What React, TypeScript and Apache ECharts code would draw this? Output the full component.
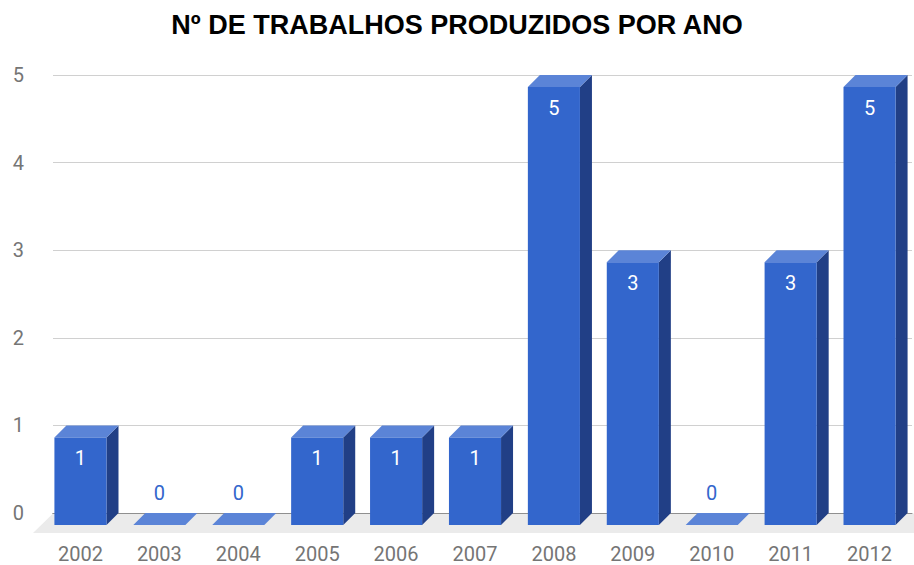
import React, { useEffect, useRef } from "react";
import * as echarts from "echarts";

const years = ["2002", "2003", "2004", "2005", "2006", "2007", "2008", "2009", "2010", "2011", "2012"];
const counts = [1, 0, 0, 1, 1, 1, 5, 3, 0, 3, 5];
const yMin = 0;
const yMax = 5;
const yStep = 1;
const titleText = "Nº DE TRABALHOS PRODUZIDOS POR ANO";

const DEPTH = 12;
const FRONT = "#3366cc";
const TOP = "#5b84d7";
const SIDE = "#213f86";
const LABEL_GRAY = "#757575";

export default function App() {
  const ref = useRef<HTMLDivElement>(null);
  useEffect(() => {
    if (!ref.current) return;
    const chart = echarts.init(ref.current, null, { renderer: "svg" });
    const option: any = {
      animation: false,
      backgroundColor: "#ffffff",
      title: {
        text: titleText,
        left: "center",
        top: 6,
        textStyle: { fontFamily: "Liberation Sans, Arial, sans-serif", fontWeight: "bold", fontSize: 27, color: "#000" },
      },
      grid: [
        { left: 53, right: 2, top: 75, bottom: 52 },
        { left: 41, right: 5, top: 87, bottom: 40 },
      ],
      xAxis: [
        {
          gridIndex: 0,
          type: "category",
          data: years,
          axisLine: { show: true, lineStyle: { color: "#333", width: 1 } },
          axisTick: { show: false },
          axisLabel: { show: false },
          splitLine: { show: false },
        },
        {
          gridIndex: 1,
          type: "category",
          data: years,
          axisLine: { show: false },
          axisTick: { show: false },
          axisLabel: { color: LABEL_GRAY, fontSize: 20, fontFamily: "Roboto, sans-serif", margin: 19 },
          splitLine: { show: false },
        },
      ],
      yAxis: [
        {
          gridIndex: 0,
          type: "value",
          min: yMin,
          max: yMax,
          interval: yStep,
          axisLine: { show: false },
          axisTick: { show: false },
          axisLabel: { color: LABEL_GRAY, fontSize: 20, fontFamily: "Roboto, sans-serif", margin: 29 },
          splitLine: { show: true, lineStyle: { color: "#d0d0d0", width: 1 } },
        },
        {
          gridIndex: 1,
          type: "value",
          min: yMin,
          max: yMax,
          interval: yStep,
          show: false,
          splitLine: { show: false },
        },
      ],
      series: [
        {
          type: "custom",
          xAxisIndex: 1,
          yAxisIndex: 1,
          z: 1,
          silent: true,
          data: [[0, 0]],
          renderItem: (params: any, api: any) => {
            const cs = params.coordSys;
            const base = cs.y + cs.height;
            const backY = base - DEPTH + 0.5;
            const frontY = base + 8;
            return {
              type: "polygon",
              shape: {
                points: [
                  [cs.x + DEPTH, backY],
                  [cs.x + cs.width + 30, backY],
                  [cs.x + cs.width + 10, frontY],
                  [cs.x - 8, frontY],
                ],
              },
              style: { fill: "#ebebeb" },
            };
          },
        },
        {
          type: "custom",
          xAxisIndex: 1,
          yAxisIndex: 1,
          z: 3,
          data: years.map((y, i) => [i, counts[i]]),
          renderItem: (params: any, api: any) => {
            const xi = api.value(0);
            const v = api.value(1);
            const top = api.coord([xi, v]);
            const base = api.coord([xi, 0]);
            const band = api.size([1, 0])[0];
            const bw = band * 0.66;
            const cx = top[0];
            const xl = cx - bw / 2;
            const xr = cx + bw / 2;
            const yt = top[1];
            const yb = base[1];
            const children: any[] = [];
            const topFace = {
              type: "polygon",
              shape: {
                points: [
                  [xl, yt],
                  [xr, yt],
                  [xr + DEPTH, yt - DEPTH],
                  [xl + DEPTH, yt - DEPTH],
                ],
              },
              style: { fill: TOP },
            };
            if (v > 0) {
              children.push({
                type: "polygon",
                shape: {
                  points: [
                    [xr, yt],
                    [xr + DEPTH, yt - DEPTH],
                    [xr + DEPTH, yb - DEPTH],
                    [xr, yb],
                  ],
                },
                style: { fill: SIDE },
              });
              children.push(topFace);
              children.push({
                type: "rect",
                shape: { x: xl, y: yt, width: bw, height: yb - yt },
                style: { fill: FRONT },
              });
              children.push({
                type: "text",
                x: cx,
                y: yt + 21,
                style: {
                  text: String(v),
                  fill: "#ffffff",
                  font: "20px Roboto, sans-serif",
                  align: "center",
                  verticalAlign: "middle",
                },
              });
            } else {
              children.push(topFace);
              children.push({
                type: "text",
                x: cx,
                y: yb - 32,
                style: {
                  text: String(v),
                  fill: FRONT,
                  font: "20px Roboto, sans-serif",
                  align: "center",
                  verticalAlign: "middle",
                },
              });
            }
            return { type: "group", children };
          },
        },
      ],
    };
    chart.setOption(option);
    return () => chart.dispose();
  }, []);
  return <div ref={ref} style={{ position: "fixed", left: 0, top: 0, width: 914, height: 565 }} />;
}
